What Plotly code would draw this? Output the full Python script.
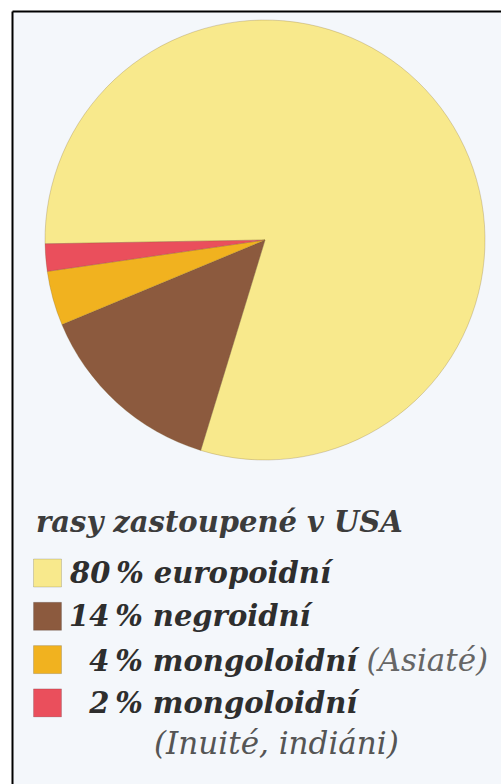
import plotly.graph_objects as go

# ---- data ----
categories = ["europoidní", "negroidní", "mongoloidní", "mongoloidní"]
notes = ["", "", "(Asiaté)", "(Inuité, indiáni)"]
values = [80, 14, 4, 2]
colors = ["#f8e98c", "#8c5a3e", "#f1b21f", "#ea4f5c"]
title_text = "rasy zastoupené v USA"

W, H = 501, 784
FONT = "DejaVu Serif"
TXT = "#2e2e2e"
FS = 29
FS_NOTE = 31

fig = go.Figure()

fig.add_trace(go.Pie(
    labels=[f"{v} % {c}" for v, c in zip(values, categories)],
    values=values,
    marker=dict(colors=colors, line=dict(color="rgba(120,90,40,0.25)", width=1)),
    sort=False,
    direction="clockwise",
    rotation=269,
    textinfo="none",
    showlegend=False,
    domain=dict(x=[45 / W, 485 / W], y=[1 - 460 / H, 1 - 20 / H]),
))

# legend squares drawn through scatter on hidden axes (row index -> y)
rows = list(range(len(values)))
fig.add_trace(go.Scatter(
    x=[0] * len(values), y=rows, mode="markers",
    marker=dict(symbol="square", size=28, color=colors,
                line=dict(color="rgba(0,0,0,0.15)", width=1)),
    showlegend=False, hoverinfo="skip",
))

row_px = 43.3
y0_px = 573
fig.update_yaxes(range=[(H - y0_px) / row_px, -y0_px / row_px], visible=False,
                 domain=[0, 1], fixedrange=True)
fig.update_xaxes(range=[-47.5, W - 47.5], visible=False, domain=[0, 1], fixedrange=True)

# title of legend
fig.add_annotation(x=-14, y=(522 - y0_px) / row_px, xref="x", yref="y",
                   text=f"<b><i>{title_text}</i></b>", showarrow=False, xanchor="left",
                   yanchor="middle", font=dict(family=FONT, size=FS, color="#3c3c3c"))

for i, (v, c, n) in enumerate(zip(values, categories, notes)):
    pad = "\u2007" if v < 10 else ""
    t = f"<b><i>{pad}{v}\u2009% {c}</i></b>"
    if n and i != len(values) - 1:
        t += (f" <i><span style='color:#666;font-size:{FS_NOTE}px;'>{n}</span></i>")
    fig.add_annotation(x=19, y=i, xref="x", yref="y", text=t, showarrow=False,
                       xanchor="left", yanchor="middle",
                       font=dict(family=FONT, size=FS, color=TXT))
    if n and i == len(values) - 1:
        fig.add_annotation(x=104, y=i + 0.93, xref="x", yref="y",
                           text=f"<i><span style='color:#555;'>{n}</span></i>",
                           showarrow=False, xanchor="left", yanchor="middle",
                           font=dict(family=FONT, size=FS_NOTE, color=TXT))

# background panel with left/top border
fig.add_shape(type="rect", xref="paper", yref="paper", x0=12.5 / W, x1=1.01,
              y0=-0.01, y1=1 - 11.5 / H, fillcolor="#f4f7fb", line=dict(width=0),
              layer="below")
fig.add_shape(type="line", xref="paper", yref="paper", x0=12.5 / W, x1=12.5 / W,
              y0=-0.01, y1=1 - 11.5 / H, line=dict(color="black", width=2))
fig.add_shape(type="line", xref="paper", yref="paper", x0=12.5 / W, x1=1.01,
              y0=1 - 11.5 / H, y1=1 - 11.5 / H, line=dict(color="black", width=2))

fig.update_layout(width=W, height=H, margin=dict(l=0, r=0, t=0, b=0),
                  paper_bgcolor="white", plot_bgcolor="rgba(0,0,0,0)",
                  showlegend=False)

fig.write_html("out.html", config={"displayModeBar": False},
               post_script="document.body.style.margin='0';")
